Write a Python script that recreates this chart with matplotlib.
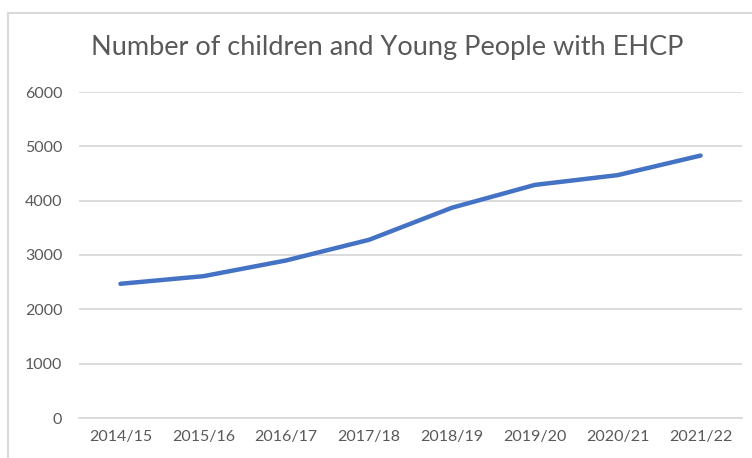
import numpy as np
import matplotlib
matplotlib.use("Agg")
import matplotlib.pyplot as plt
from matplotlib.patches import Rectangle

# values
years = ["2014/15", "2015/16", "2016/17", "2017/18",
         "2018/19", "2019/20", "2020/21", "2021/22"]
ehcp = [2470, 2610, 2900, 3280, 3870, 4290, 4470, 4830]
yticks = [0, 1000, 2000, 3000, 4000, 5000, 6000]

plt.rcParams['font.family'] = ['Lato', 'DejaVu Sans']

W, H = 752, 458
fig = plt.figure(figsize=(W / 100, H / 100), dpi=100)
ax = fig.add_axes([79 / W, (H - 418) / H, (742 - 79) / W, (418 - 92) / H])

# chart border (runs off the right/bottom edge like the screenshot)
fig.patches.append(Rectangle((8 / W, -0.1), 1.2, (H - 13) / H + 0.1,
                             transform=fig.transFigure, fill=False,
                             edgecolor='#d9d9d9', linewidth=1.5))

x = np.arange(len(years))
ax.plot(x, ehcp, color='#4472c4', linewidth=3.2,
        solid_capstyle='round', solid_joinstyle='round', zorder=3)

ax.set_xlim(-0.5, len(years) - 0.5)
ax.set_ylim(0, 6000)
ax.set_yticks(yticks)
ax.set_xticks(x)
ax.set_xticklabels(years)
ax.grid(axis='y', color='#d9d9d9', linewidth=1.3)
ax.set_axisbelow(True)
for s in ['top', 'right', 'left']:
    ax.spines[s].set_visible(False)
ax.spines['bottom'].set_color('#d9d9d9')
ax.spines['bottom'].set_linewidth(1.3)
ax.tick_params(length=0, colors='#595959', labelsize=11.5)
ax.tick_params(axis='y', pad=12)
ax.tick_params(axis='x', pad=9)

fig.text(387 / W, (H - 47) / H, "Number of children and Young People with EHCP",
         ha='center', va='center', fontsize=19.5, color='#595959')

fig.savefig("out.png", dpi=100)
